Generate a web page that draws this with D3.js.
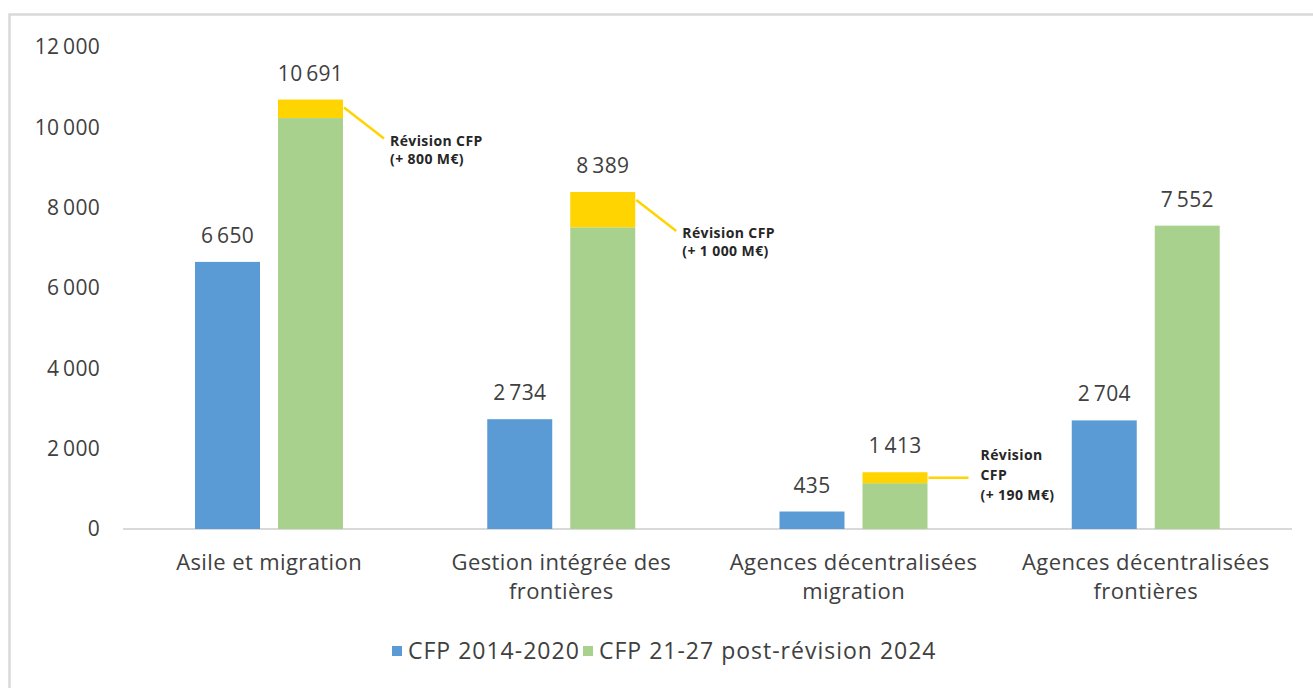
<!DOCTYPE html>
<html>
<head>
<meta charset="utf-8">
<script src="https://cdn.jsdelivr.net/npm/d3@7.9.0/dist/d3.min.js"></script>
<style>
  body { margin: 0; background: #fff; }
  svg { display: block; font-family: "Open Sans", "Noto Sans", sans-serif; }
</style>
</head>
<body>
<svg id="chart" width="1313" height="688"></svg>
<script>
// categories, split on two lines as in the original
const categories = [
  ["Asile et migration"],
  ["Gestion intégrée des", "frontières"],
  ["Agences décentralisées", "migration"],
  ["Agences décentralisées", "frontières"],
];
const series = ["CFP 2014-2020", "CFP 21-27 post-révision 2024"];
const cfp1420 = [6650, 2734, 435, 2704];
const cfp2127 = [10691, 8389, 1413, 7552];       // totals (labels)
const cfp2127Base = [10230, 7510, 1140, 7552];   // green part as drawn
const revisionNotes = [
  ["Révision CFP", "(+ 800 M€)"],
  ["Révision CFP", "(+ 1 000 M€)"],
  ["Révision", "CFP", "(+ 190 M€)"],
  null,
];
const yTicks = [0, 2000, 4000, 6000, 8000, 10000, 12000];

const colors = { blue: "#5b9bd5", green: "#a9d18e", yellow: "#ffd400", text: "#404040" };

const svg = d3.select("#chart");

// frame
svg.append("rect")
  .attr("x", 9.5).attr("y", 14.5)
  .attr("width", 1320).attr("height", 700)
  .attr("fill", "none").attr("stroke", "#d9d9d9").attr("stroke-width", 2.5);

const x0 = d3.scaleBand().domain(d3.range(categories.length)).range([123, 1292]);
const x1 = d3.scaleBand().domain(series).range([72, 220]).paddingInner(0.217);
const y = d3.scaleLinear().domain([0, 12000]).range([529, 47]);

const fmt = d3.formatLocale({ decimal: ",", thousands: "\u2009", grouping: [3], currency: ["", "€"] }).format(",d");

// y axis labels
const yAxis = svg.append("g")
  .attr("transform", "translate(100,0)")
  .call(d3.axisLeft(y).tickValues(yTicks).tickSize(0).tickPadding(0).tickFormat(fmt));
yAxis.select(".domain").remove();
yAxis.selectAll("text")
  .attr("fill", colors.text)
  .style("font-size", "21px")
  .style("letter-spacing", "0.3px")
  .style("font-family", "'Open Sans', sans-serif");

// baseline
svg.append("line")
  .attr("x1", 123).attr("x2", 1292)
  .attr("y1", y(0)).attr("y2", y(0))
  .attr("stroke", "#d9d9d9").attr("stroke-width", 2);

const groups = svg.append("g").selectAll("g")
  .data(categories)
  .join("g")
  .attr("transform", (d, i) => `translate(${x0(i)},0)`);

// blue bars
groups.append("rect")
  .attr("x", x1(series[0]))
  .attr("width", x1.bandwidth())
  .attr("y", (d, i) => y(cfp1420[i]))
  .attr("height", (d, i) => y(0) - y(cfp1420[i]))
  .attr("fill", colors.blue);

// green bars
groups.append("rect")
  .attr("x", x1(series[1]))
  .attr("width", x1.bandwidth())
  .attr("y", (d, i) => y(cfp2127Base[i]))
  .attr("height", (d, i) => y(0) - y(cfp2127Base[i]))
  .attr("fill", colors.green);

// yellow revision segments
groups.each(function (d, i) {
  if (cfp2127[i] <= cfp2127Base[i]) return;
  d3.select(this).append("rect")
    .attr("x", x1(series[1]))
    .attr("width", x1.bandwidth())
    .attr("y", y(cfp2127[i]))
    .attr("height", y(cfp2127Base[i]) - y(cfp2127[i]))
    .attr("fill", colors.yellow);
});

// value labels
groups.append("text")
  .attr("x", x1(series[0]) + x1.bandwidth() / 2)
  .attr("y", (d, i) => y(cfp1420[i]) - 19)
  .attr("text-anchor", "middle")
  .attr("fill", colors.text)
  .style("font-size", "21px")
  .style("letter-spacing", "0.3px")
  .text((d, i) => fmt(cfp1420[i]));

groups.append("text")
  .attr("x", x1(series[1]) + x1.bandwidth() / 2)
  .attr("y", (d, i) => y(cfp2127[i]) - 19)
  .attr("text-anchor", "middle")
  .attr("fill", colors.text)
  .style("font-size", "21px")
  .style("letter-spacing", "0.3px")
  .text((d, i) => fmt(cfp2127[i]));

// category labels
groups.append("text")
  .attr("text-anchor", "middle")
  .attr("fill", colors.text)
  .style("font-size", "22px")
  .style("letter-spacing", "0.4px")
  .selectAll("tspan")
  .data((d) => d)
  .join("tspan")
  .attr("x", x0.bandwidth() / 2)
  .attr("y", (d, j) => 570 + j * 29)
  .text((d) => d);

// revision callouts
groups.each(function (d, i) {
  const note = revisionNotes[i];
  if (!note) return;
  const g = d3.select(this);
  const right = x1(series[1]) + x1.bandwidth();
  const yTop = y(cfp2127[i]);
  const yMid = (y(cfp2127[i]) + y(cfp2127Base[i])) / 2;
  const flat = note.length > 2;
  const lx = right + 1, ly = flat ? yMid : yTop + 8;
  const ex = right + 41, ey = flat ? yMid : ly + 31;
  g.append("line")
    .attr("x1", lx).attr("y1", ly).attr("x2", ex).attr("y2", ey)
    .attr("stroke", colors.yellow).attr("stroke-width", 2.5);
  g.append("text")
    .attr("fill", "#262626")
    .style("font-size", "14px")
    .style("letter-spacing", "0.4px")
    .style("font-weight", "bold")
    .selectAll("tspan")
    .data(note)
    .join("tspan")
    .attr("x", ex + (flat ? 12 : 6))
    .attr("y", (t, j) => flat ? ey - 18 + j * 20 : ey + 7 + j * 18)
    .text((t) => t);
});

// legend
const legend = svg.append("g").attr("transform", "translate(392,0)");
const legendX = [0, 191];
series.forEach((s, i) => {
  legend.append("rect")
    .attr("x", legendX[i]).attr("y", 646)
    .attr("width", 10).attr("height", 10)
    .attr("fill", i === 0 ? colors.blue : colors.green);
  legend.append("text")
    .attr("x", legendX[i] + 16).attr("y", 659)
    .attr("fill", colors.text)
    .style("font-size", "23px")
    .style("letter-spacing", "1px")
    .text(s);
});
</script>
</body>
</html>
